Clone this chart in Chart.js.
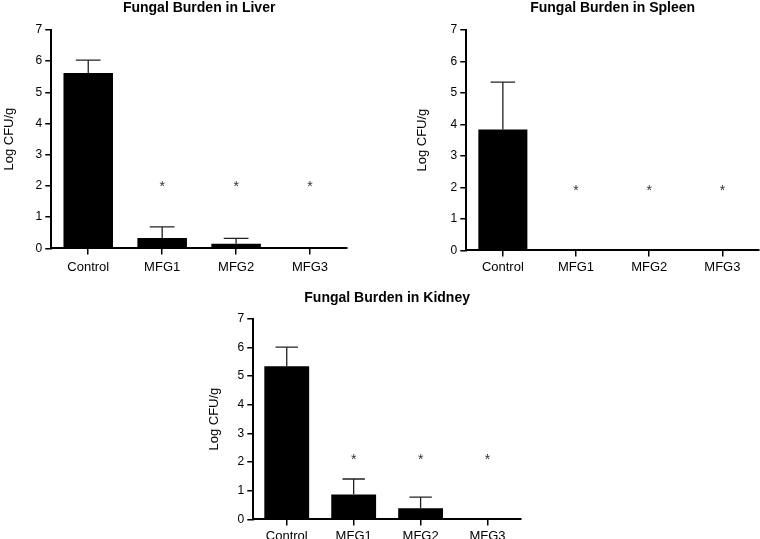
<!DOCTYPE html>
<html>
<head>
<meta charset="utf-8">
<script src="https://cdn.jsdelivr.net/npm/chart.js@4"></script>
<style>
  html, body { margin: 0; background: #fff; overflow: hidden; }
  .box { position: absolute; }
</style>
</head>
<body>
<div class="box" style="left:0;top:0;width:380px;height:282px"><canvas id="liverChart"></canvas></div>
<div class="box" style="left:380px;top:0;width:380px;height:281px"><canvas id="spleenChart"></canvas></div>
<div class="box" style="left:170px;top:280px;width:380px;height:268px"><canvas id="kidneyChart"></canvas></div>
<script>
const groups = ["Control", "MFG1", "MFG2", "MFG3"];
const yTicks = [0, 1, 2, 3, 4, 5, 6, 7];

// mean log CFU/g and upper error (SD) per group
const liverMean = [5.62, 0.33, 0.15, 0];
const liverErr = [0.41, 0.36, 0.17, 0];
const liverStars = [null, 2.1, 2.1, 2.1];

const spleenMean = [3.84, 0, 0, 0];
const spleenErr = [1.50, 0, 0, 0];
const spleenStars = [null, 2.0, 2.0, 2.0];

const kidneyMean = [5.34, 0.87, 0.39, 0];
const kidneyErr = [0.67, 0.54, 0.39, 0];
const kidneyStars = [null, 2.22, 2.22, 2.22];

Chart.defaults.font.family = "'Liberation Sans', Arial, sans-serif";
Chart.defaults.color = "#000";

// draws the upper error bars and the significance stars
const errorBarPlugin = {
    id: "errorBars",
    afterDatasetsDraw(chart, args, opts) {
        const ctx = chart.ctx;
        const y = chart.scales.y;
        const meta = chart.getDatasetMeta(0);
        const means = chart.data.datasets[0].data;
        ctx.save();
        ctx.strokeStyle = "#222";
        ctx.lineWidth = 1.3;
        meta.data.forEach((bar, i) => {
            const sd = opts.err[i];
            if (!sd) return;
            const yBase = y.getPixelForValue(means[i]);
            const yTop = y.getPixelForValue(means[i] + sd);
            const half = bar.width / 4;
            ctx.beginPath();
            ctx.moveTo(bar.x, yBase);
            ctx.lineTo(bar.x, yTop);
            ctx.moveTo(bar.x - half, yTop);
            ctx.lineTo(bar.x + half, yTop);
            ctx.stroke();
        });
        ctx.fillStyle = "#333";
        ctx.font = "14px 'Liberation Sans', Arial, sans-serif";
        ctx.textAlign = "center";
        ctx.textBaseline = "alphabetic";
        meta.data.forEach((bar, i) => {
            const s = opts.stars[i];
            if (s == null) return;
            ctx.fillText("*", bar.x, y.getPixelForValue(s) + 8);
        });
        ctx.restore();
    }
};

function renderBurdenChart(id, title, means, errs, stars, pad, titlePad, yTitlePad, xPad) {
    const ctx = document.getElementById(id).getContext("2d");
    return new Chart(ctx, {
        type: "bar",
        data: {
            labels: groups,
            datasets: [{
                data: means,
                backgroundColor: "#000",
                borderWidth: 0,
                categoryPercentage: 1,
                barPercentage: 0.67
            }]
        },
        options: {
            responsive: true,
            maintainAspectRatio: false,
            animation: false,
            layout: { padding: pad },
            plugins: {
                legend: { display: false },
                tooltip: { enabled: false },
                title: {
                    display: true,
                    text: title,
                    fullSize: false,
                    color: "#000",
                    font: { size: 14, weight: "bold" },
                    padding: titlePad
                },
                errorBars: { err: errs, stars: stars }
            },
            scales: {
                x: {
                    offset: true,
                    grid: { offset: false, drawOnChartArea: false, drawTicks: true, tickLength: 6, color: "#000", lineWidth: 1.5 },
                    border: { display: true, color: "#000", width: 2 },
                    ticks: { padding: xPad, font: { size: 13 }, color: "#000" }
                },
                y: {
                    min: 0,
                    max: 7,
                    afterBuildTicks: axis => { axis.ticks = yTicks.map(v => ({ value: v })); },
                    grid: { drawOnChartArea: false, drawTicks: true, tickLength: 6, color: "#000", lineWidth: 1.5 },
                    border: { display: true, color: "#000", width: 2 },
                    ticks: { padding: 3, font: { size: 12 }, color: "#000" },
                    title: {
                        display: true,
                        text: "Log CFU/g",
                        color: "#000",
                        font: { size: 13 },
                        padding: yTitlePad
                    }
                }
            }
        },
        plugins: [errorBarPlugin]
    });
}

renderBurdenChart("liverChart", "Fungal Burden in Liver", liverMean, liverErr, liverStars,
    { left: 0, right: 33, top: 0, bottom: 2 }, { top: 0, bottom: 13 }, { top: 2, bottom: 15 }, 5);
renderBurdenChart("spleenChart", "Fungal Burden in Spleen", spleenMean, spleenErr, spleenStars,
    { left: 33, right: 1, top: 0, bottom: 3 }, { top: 0, bottom: 13 }, { top: 2, bottom: 17 }, 3);
renderBurdenChart("kidneyChart", "Fungal Burden in Kidney", kidneyMean, kidneyErr, kidneyStars,
    { left: 35, right: 29, top: 0, bottom: 1 }, { top: 10, bottom: 12 }, { top: 2, bottom: 12 }, 3);
</script>
</body>
</html>
